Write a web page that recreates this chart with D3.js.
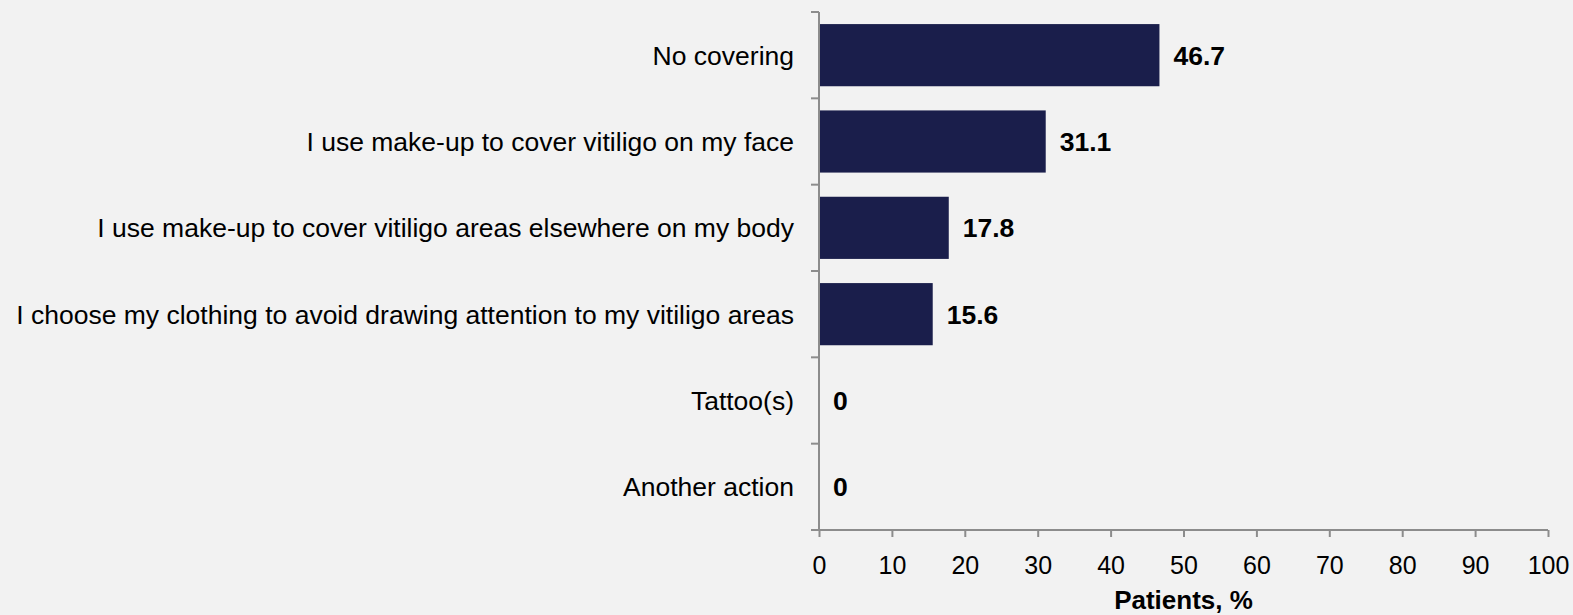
<!DOCTYPE html>
<html>
<head>
<meta charset="utf-8">
<script src="https://cdn.jsdelivr.net/npm/d3@7"></script>
<style>
  html, body { margin: 0; padding: 0; background: #f2f2f2; }
  svg { display: block; font-family: "Liberation Sans", Arial, sans-serif; }
</style>
</head>
<body>
<svg id="chart" width="1573" height="615"></svg>
<script>
// Actions taken to cover vitiligo
const categories = [
  "No covering",
  "I use make-up to cover vitiligo on my face",
  "I use make-up to cover vitiligo areas elsewhere on my body",
  "I choose my clothing to avoid drawing attention to my vitiligo areas",
  "Tattoo(s)",
  "Another action"
];
const values = [46.7, 31.1, 17.8, 15.6, 0, 0];
const xTicks = [0, 10, 20, 30, 40, 50, 60, 70, 80, 90, 100];
const xTitle = "Patients, %";

const svg = d3.select("#chart");
const W = 1573, H = 615;
const margin = { top: 12, left: 819 };
const innerW = 1548 - margin.left;
const innerH = 530 - margin.top;
const axisColor = "#8c8c8c";

svg.append("rect").attr("width", W).attr("height", H).attr("fill", "#f2f2f2");

const g = svg.append("g").attr("transform", `translate(${margin.left},${margin.top})`);

const x = d3.scaleLinear().domain([0, 100]).range([0, innerW]);
const y = d3.scaleBand().domain(categories).range([0, innerH]).paddingInner(0.28).paddingOuter(0.14);

// bars
g.selectAll("rect.bar")
  .data(categories)
  .join("rect")
  .attr("class", "bar")
  .attr("x", x(0))
  .attr("y", d => y(d))
  .attr("width", (d, i) => x(values[i]) - x(0))
  .attr("height", y.bandwidth())
  .attr("fill", "#1a1e4b");

// value labels
g.selectAll("text.val")
  .data(categories)
  .join("text")
  .attr("class", "val")
  .attr("x", (d, i) => x(values[i]) + 14)
  .attr("y", d => y(d) + y.bandwidth() / 2)
  .attr("dy", "0.36em")
  .attr("font-size", 26.5)
  .attr("font-weight", "bold")
  .attr("fill", "#000")
  .text((d, i) => values[i]);

// category axis with boundary ticks between bands
const step = innerH / categories.length;
const yAxisG = g.append("g");
yAxisG.append("line")
  .attr("x1", 0).attr("x2", 0).attr("y1", 0).attr("y2", innerH)
  .attr("stroke", axisColor).attr("stroke-width", 2);
yAxisG.selectAll("line.btick")
  .data(d3.range(categories.length))
  .join("line")
  .attr("class", "btick")
  .attr("x1", -8).attr("x2", 0)
  .attr("y1", i => i * step).attr("y2", i => i * step)
  .attr("stroke", axisColor).attr("stroke-width", 2);
yAxisG.selectAll("text.cat")
  .data(categories)
  .join("text")
  .attr("class", "cat")
  .attr("x", -25)
  .attr("y", d => y(d) + y.bandwidth() / 2)
  .attr("dy", "0.36em")
  .attr("text-anchor", "end")
  .attr("font-size", 26.5)
  .attr("fill", "#000")
  .text(d => d);

// value axis
const xAxis = d3.axisBottom(x).tickValues(xTicks).tickSize(7).tickPadding(19).tickSizeOuter(0);
const xAxisG = g.append("g").attr("transform", `translate(0,${innerH})`).call(xAxis);
xAxisG.select(".domain").attr("stroke", axisColor).attr("stroke-width", 2)
  .attr("d", `M-8,0H${innerW}`);
xAxisG.selectAll(".tick line").attr("stroke", axisColor).attr("stroke-width", 2);
xAxisG.selectAll(".tick text").attr("font-size", 25).attr("fill", "#000")
  .attr("font-family", "\"Liberation Sans\", Arial, sans-serif");

g.append("text")
  .attr("x", (x(0) + x(100)) / 2)
  .attr("y", innerH + 79)
  .attr("text-anchor", "middle")
  .attr("font-size", 26)
  .attr("font-weight", "bold")
  .attr("fill", "#000")
  .text(xTitle);
</script>
</body>
</html>
